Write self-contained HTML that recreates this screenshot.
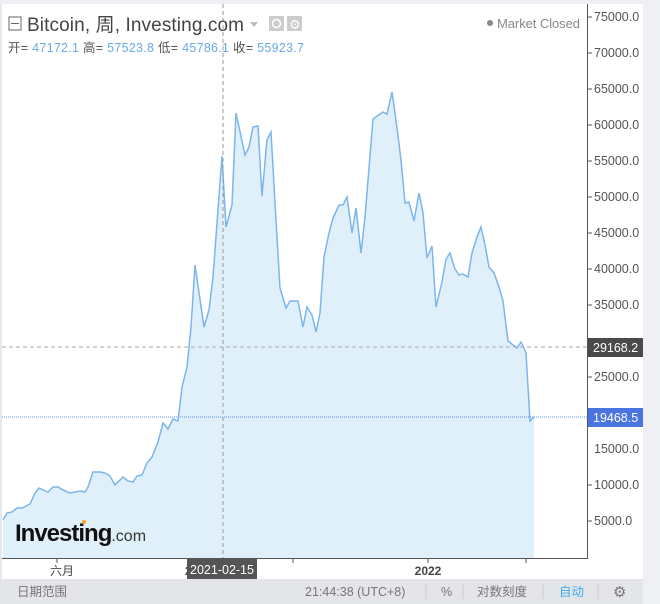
<!DOCTYPE html>
<html><head><meta charset="utf-8"><style>
body{margin:0;width:660px;height:604px;overflow:hidden;background:#fff;font-family:"Liberation Sans","Noto Sans CJK SC",sans-serif;}
</style></head><body>
<svg width="660" height="604" xmlns="http://www.w3.org/2000/svg" style="position:absolute;left:0;top:0">
<rect x="0" y="0" width="660" height="604" fill="#fff"/>
<rect x="0" y="0" width="660" height="4" fill="#eef0f4"/>
<rect x="643" y="0" width="17" height="604" fill="#eef0f4"/>
<rect x="0" y="4" width="2" height="575" fill="#e6e8ec"/>
<polygon fill="#e0f0fa" points="3,558 3,520 7,513 12,512 17,508 22,508 30,504 35,493 39,488 48,492 53,487 58,487 63,490 70,493 80,491 85,492 88,487 93,472 100,472 105,473 110,476 115,485 123,477 128,481 133,482 137,476 142,475 147,463 152,457 158,442 163,423 168,429 173,419 178,421 182,387 187,367 191,327 195,265 204,327 209,310 213,277 222,156 226,227 232,205 236,113 245,155 249,147 253,127 258,126 262,196 267,140 271,132 276,220 280,288 286,308 290,301 298,301 303,327 307,307 312,315 316,332 320,313 324,257 329,233 333,218 339,205 343,205 347,197 352,233 356,208 361,253 365,217 373,119 383,112 387,114 392,92 397,128 401,160 405,203 409,202 414,221 419,193 423,213 427,258 432,246 436,307 442,282 446,259 450,253 455,269 459,275 463,274 468,277 472,253 477,237 481,227 485,245 489,267 494,273 499,287 503,301 508,341 513,345 517,348 521,342 526,353 530,421 534,417 534,558"/>
<polyline fill="none" stroke="#7cb5ec" stroke-width="1.5" points="3,520 7,513 12,512 17,508 22,508 30,504 35,493 39,488 48,492 53,487 58,487 63,490 70,493 80,491 85,492 88,487 93,472 100,472 105,473 110,476 115,485 123,477 128,481 133,482 137,476 142,475 147,463 152,457 158,442 163,423 168,429 173,419 178,421 182,387 187,367 191,327 195,265 204,327 209,310 213,277 222,156 226,227 232,205 236,113 245,155 249,147 253,127 258,126 262,196 267,140 271,132 276,220 280,288 286,308 290,301 298,301 303,327 307,307 312,315 316,332 320,313 324,257 329,233 333,218 339,205 343,205 347,197 352,233 356,208 361,253 365,217 373,119 383,112 387,114 392,92 397,128 401,160 405,203 409,202 414,221 419,193 423,213 427,258 432,246 436,307 442,282 446,259 450,253 455,269 459,275 463,274 468,277 472,253 477,237 481,227 485,245 489,267 494,273 499,287 503,301 508,341 513,345 517,348 521,342 526,353 530,421 534,417"/>
<line x1="2" y1="347" x2="587" y2="347" stroke="#aaa" stroke-dasharray="4,3"/>
<line x1="223" y1="4" x2="223" y2="558" stroke="#999" stroke-dasharray="4,3"/>
<line x1="2" y1="417" x2="587" y2="417" stroke="#5b8ff0" stroke-dasharray="1,1"/>
<line x1="587.5" y1="4" x2="587.5" y2="558" stroke="#555"/>
<line x1="2" y1="558.5" x2="588" y2="558.5" stroke="#555"/>
<g stroke="#555">
<line x1="588" y1="17" x2="592" y2="17"/><line x1="588" y1="53" x2="592" y2="53"/><line x1="588" y1="89" x2="592" y2="89"/><line x1="588" y1="125" x2="592" y2="125"/><line x1="588" y1="161" x2="592" y2="161"/><line x1="588" y1="197" x2="592" y2="197"/><line x1="588" y1="233" x2="592" y2="233"/><line x1="588" y1="269" x2="592" y2="269"/><line x1="588" y1="305" x2="592" y2="305"/><line x1="588" y1="341" x2="592" y2="341"/><line x1="588" y1="377" x2="592" y2="377"/><line x1="588" y1="485" x2="592" y2="485"/><line x1="588" y1="521" x2="592" y2="521"/>
<line x1="57" y1="559" x2="57" y2="563"/><line x1="293" y1="559" x2="293" y2="563"/><line x1="428" y1="559" x2="428" y2="563"/><line x1="526" y1="559" x2="526" y2="563"/>
</g>
<g font-size="12.5" fill="#555" font-family="Liberation Sans,sans-serif">
<text x="594" y="21">75000.0</text><text x="594" y="57">70000.0</text><text x="594" y="93">65000.0</text><text x="594" y="129">60000.0</text><text x="594" y="165">55000.0</text><text x="594" y="201">50000.0</text><text x="594" y="237">45000.0</text><text x="594" y="273">40000.0</text><text x="594" y="309">35000.0</text><text x="594" y="381">25000.0</text><text x="594" y="453">15000.0</text><text x="594" y="489">10000.0</text><text x="594" y="525">5000.0</text>
</g>
<rect x="588" y="338" width="55" height="19" fill="#4a4a4a"/>
<text x="593" y="352" font-size="12.5" fill="#fff">29168.2</text>
<rect x="588" y="408" width="55" height="19" fill="#4a74e0"/>
<text x="593" y="422" font-size="12.5" fill="#fff">19468.5</text>
<text x="62" y="575" font-size="12" fill="#444" text-anchor="middle">六月</text>
<text x="185" y="575" font-size="12" fill="#444" font-weight="bold">2</text>
<rect x="187" y="558" width="70" height="21" fill="#555"/>
<text x="222" y="574" font-size="12.5" fill="#fff" text-anchor="middle">2021-02-15</text>
<text x="428" y="575" font-size="12" fill="#444" font-weight="bold" text-anchor="middle">2022</text>
<rect x="0" y="579" width="643" height="25" fill="#e4e5e8"/>
<g font-size="12.5" fill="#777">
<text x="17" y="596">日期范围</text>
<text x="305" y="596">21:44:38 (UTC+8)</text>
<text x="441" y="596">%</text>
<text x="477" y="596">对数刻度</text>
<text x="559" y="596" fill="#3fa9f0">自动</text>
<text x="613" y="597" font-size="15">⚙</text>
</g>
<g stroke="#ccc"><line x1="426" y1="584" x2="426" y2="599"/><line x1="463" y1="584" x2="463" y2="599"/><line x1="543" y1="584" x2="543" y2="599"/><line x1="598" y1="584" x2="598" y2="599"/></g>
<text x="15" y="541" font-size="24" font-weight="bold" fill="#111" letter-spacing="-1">Investing<tspan font-size="16" font-weight="normal" fill="#333" letter-spacing="0">.com</tspan></text>
<circle cx="84" cy="522" r="2" fill="#f5a623"/>
<rect x="9" y="17" width="12" height="13" fill="none" stroke="#666"/>
<line x1="11" y1="23.5" x2="19" y2="23.5" stroke="#666"/>
<text x="27" y="31" font-size="19" fill="#444" textLength="217" lengthAdjust="spacing">Bitcoin, 周, Investing.com</text>
<polygon points="250,22 258,22 254,27" fill="#bbb"/>
<rect x="269" y="16" width="15" height="15" fill="#ccc"/><circle cx="276.5" cy="23.5" r="4" fill="none" stroke="#fff" stroke-width="1.5"/>
<rect x="287" y="16" width="15" height="15" fill="#ccc"/><text x="289" y="29" font-size="13" fill="#fff">⚙</text>
<text x="8" y="52" font-size="12.5" fill="#555" textLength="296" lengthAdjust="spacing">开= <tspan fill="#6aa9e8">47172.1</tspan>  高= <tspan fill="#6aa9e8">57523.8</tspan>  低= <tspan fill="#6aa9e8">45786.1</tspan>  收= <tspan fill="#6aa9e8">55923.7</tspan></text>
<circle cx="490" cy="23" r="3" fill="#888"/>
<text x="497" y="28" font-size="13" fill="#888" textLength="83" lengthAdjust="spacing">Market Closed</text>
</svg>
</body></html>
